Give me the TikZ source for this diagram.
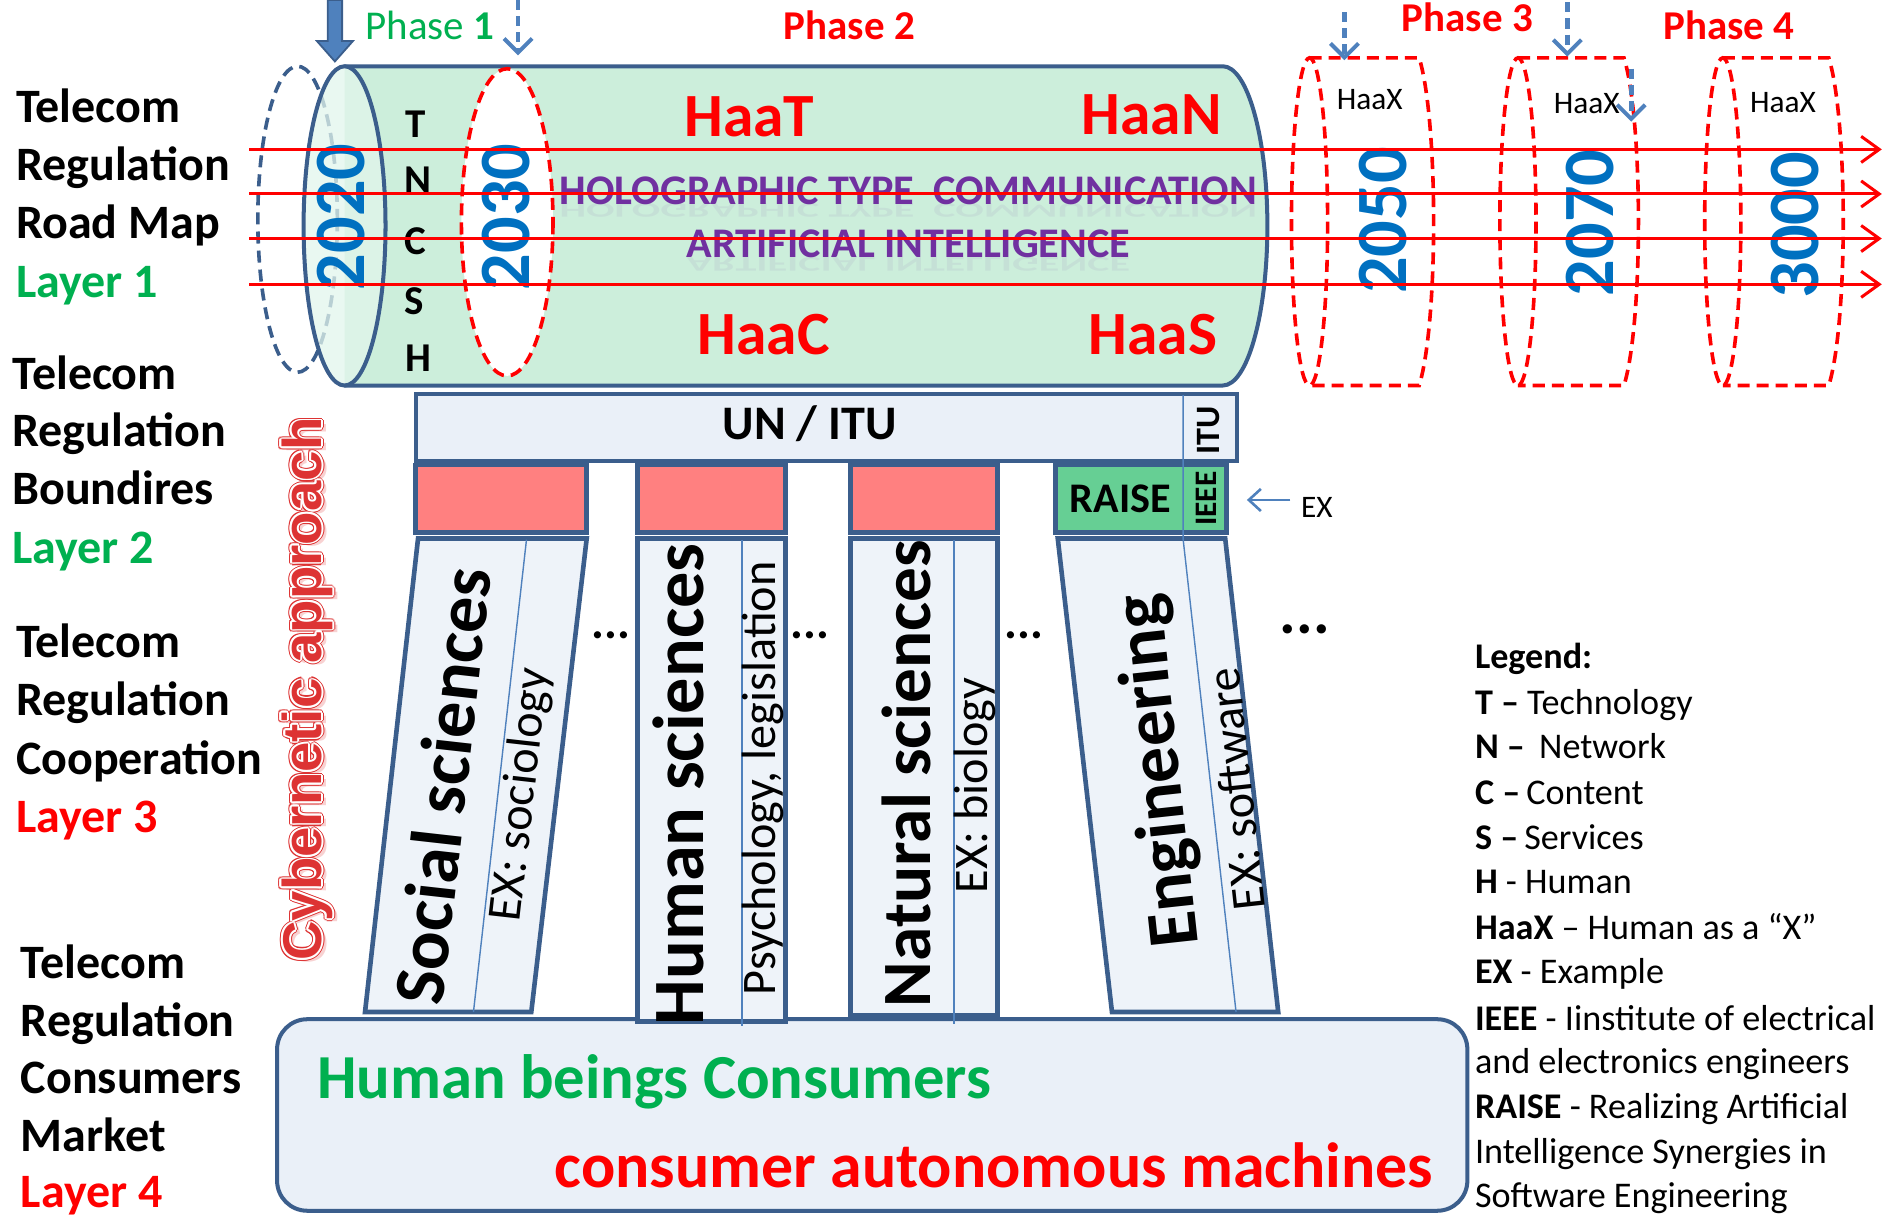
\documentclass[tikz,border=0pt]{standalone}
\usepackage{fontspec}
\setmainfont{Carlito}
\newfontfamily\lblfont{Liberation Sans}
\usetikzlibrary{arrows.meta,calc}

\definecolor{frame}{HTML}{3B5E8C}
\definecolor{steel}{HTML}{4F81BD}
\definecolor{mint}{HTML}{CCEEDB}
\definecolor{mintlight}{HTML}{E2F5EC}
\definecolor{paleblue}{HTML}{EAF0F8}
\definecolor{colfill}{HTML}{EEF3F9}
\definecolor{salmon}{HTML}{FF8080}
\definecolor{raisegreen}{HTML}{66CF94}
\definecolor{yearblue}{HTML}{0070C0}
\definecolor{okgreen}{HTML}{00B050}
\definecolor{purp}{HTML}{7030A0}
\definecolor{cyber}{HTML}{DD3333}

\newcommand\fsize[1]{\fontsize{#1pt}{#1pt}\selectfont}

\tikzset{
  framed/.style={draw=frame, line width=2pt},
  reddash/.style={draw=red, line width=1.8pt, dash pattern=on 6pt off 3.5pt},
  bluearrow/.style={draw=steel, line width=2.3pt, dash pattern=on 5pt off 3pt,
    -{Straight Barb[length=7pt,width=14pt,line width=2pt]}},
  timeline/.style={draw=red, line width=1.5pt,
    -{Straight Barb[length=9pt,width=13pt,line width=1.5pt]}},
  rowlbl/.style={anchor=base west, inner sep=0pt, font=\bfseries\fsize{23.9}},
  year/.style={text=yearblue, font=\bfseries\fsize{36}, rotate=90, inner sep=0pt},
  haa/.style={text=red, font=\bfseries\fsize{30.6}, inner sep=0pt},
  layerletter/.style={font=\bfseries\fsize{20.4}, inner sep=0pt},
  holo/.style={text=purp, font=\bfseries\fsize{21}, inner sep=0pt},
  haax/.style={font=\fsize{15.6}, inner sep=0pt},
  phase/.style={anchor=base, text=red, font=\bfseries\fsize{20.4}, inner sep=0pt},
  colbox/.style={framed, fill=colfill, line width=2.3pt},
  capbox/.style={framed, fill=salmon, line width=2.3pt},
  thinline/.style={draw=steel, line width=0.7pt},
  coltitle/.style={font=\bfseries\fsize{36}, inner sep=0pt},
  colsub/.style={font=\fsize{24}, inner sep=0pt},
  dots/.style={font=\bfseries\fsize{24}, inner sep=0pt},
  legendline/.style={anchor=base west, inner sep=0pt, font=\fsize{18}},
  cyb/.style={rotate=90, font=\lblfont\bfseries\fsize{27.2}, inner sep=0pt},
}

\begin{document}
\begin{tikzpicture}[x=0.6pt,y=-0.6pt]
\useasboundingbox (0,0) rectangle (1568,1008);

% ---------- row labels on the left ----------
\node[rowlbl] (r1a) at (13,102) {Telecom};
\node[rowlbl] (r1b) at (13,150) {Regulation};
\node[rowlbl] (r1c) at (13,198) {Road Map};
\node[rowlbl, text=okgreen] (r1d) at (13,247) {Layer 1};

\node[rowlbl] (r2a) at (10,323) {Telecom};
\node[rowlbl] (r2b) at (10,371) {Regulation};
\node[rowlbl] (r2c) at (10,419) {Boundires};
\node[rowlbl, text=okgreen] (r2d) at (10,468) {Layer 2};

\node[rowlbl] (r3a) at (13,546) {Telecom};
\node[rowlbl] (r3b) at (13,594) {Regulation};
\node[rowlbl] (r3c) at (13,643) {Cooperation};
\node[rowlbl, text=red] (r3d) at (13,691) {Layer 3};

\node[rowlbl] (r4a) at (17,812) {Telecom};
\node[rowlbl] (r4b) at (17,860) {Regulation};
\node[rowlbl] (r4c) at (17,908) {Consumers};
\node[rowlbl] (r4d) at (17,956) {Market};
\node[rowlbl, text=red] (r4e) at (17,1002) {Layer 4};

% ---------- the roadmap cylinder ----------
\path[fill=mint, framed] (286,55) -- (1015,55)
  arc[start angle=-90, end angle=90, x radius=37, y radius=132.5] -- (286,320);
\draw[draw=frame, line width=1.8pt, dash pattern=on 6pt off 3.5pt]
  (247,182) ellipse [x radius=33, y radius=127];
\fill[mintlight, fill opacity=0.75] (286,187.5) ellipse [x radius=34, y radius=132.5];
\draw[framed] (286,187.5) ellipse [x radius=34, y radius=132.5];
\draw[reddash, fill=white] (421,184.5) ellipse [x radius=38, y radius=127.5];

% ---------- future phases ----------
\foreach \L/\R [count=\i] in {1072/1190, 1245/1360, 1415/1530}{
  \draw[reddash] (\L+15,184) ellipse [x radius=15, y radius=136];
  \draw[reddash] (\L+15,48) -- (\R-12,48)
    .. controls (\R+4,100) and (\R+4,268) .. (\R-12,320) -- (\L+15,320);
}
\node[haax] (hx1) at (1137,83) {HaaX};
\node[haax] (hx2) at (1317,86) {HaaX};
\node[haax] (hx3) at (1480,85) {HaaX};

% ---------- texts inside the cylinder ----------
\node[layerletter] (lt) at (345,103) {T};
\node[layerletter] (ln) at (347,150) {N};
\node[layerletter] (lc) at (345,200) {C};
\node[layerletter] (ls) at (344,250) {S};
\node[layerletter] (lh) at (347,297) {H};

\node[year] (y2020) at (283,180) {2020};
\node[year] (y2030) at (420,180) {2030};
\node[year] (y2050) at (1148,183) {2050};
\node[year] (y2070) at (1320,185) {2070};
\node[year] (y3000) at (1490,187) {3000};

\node[haa] (haat) at (622,97) {HaaT};
\node[haa] (haan) at (956,95) {HaaN};
\node[haa] (haac) at (634,278) {HaaC};
\node[haa] (haas) at (957,278) {HaaS};

\node[holo, opacity=0.07, yscale=-0.5] (holoR) at (754,175) {HOLOGRAPHIC TYPE\hspace{0.45em}COMMUNICATION};
\node[holo, opacity=0.07, yscale=-0.5] (artR) at (754,219) {ARTIFICIAL INTELLIGENCE};
\node[holo] (holo) at (754,158) {HOLOGRAPHIC TYPE\hspace{0.45em}COMMUNICATION};
\node[holo] (art) at (754,202) {ARTIFICIAL INTELLIGENCE};

% ---------- time lines ----------
\foreach \y [count=\i] in {124,161,198,236}{
  \coordinate (ts\i) at (207,\y);
  \coordinate (te\i) at (1562,\y);
  \draw[timeline] (ts\i) -- (te\i);
}

% ---------- phase markers ----------
\draw[fill=steel, draw=frame, line width=0.9pt]
  (272,0) -- (284,0) -- (284,34) -- (293,34) -- (278,51) -- (263,34) -- (272,34) -- cycle;
\node[anchor=base west, text=okgreen, font=\fsize{20.4}, inner sep=0pt] (ph1) at (303,33) {Phase \textbf{1}};
\node[phase] (ph2) at (705,33) {Phase 2};
\node[phase] (ph3) at (1218,26) {Phase 3};
\node[phase] (ph4) at (1435,33) {Phase 4};

\coordinate (m1s) at (430,0);    \coordinate (m1e) at (430,46);
\coordinate (m2s) at (1116,10);  \coordinate (m2e) at (1116,50);
\coordinate (m3s) at (1301,2);   \coordinate (m3e) at (1301,47);
\coordinate (m4s) at (1354,57);  \coordinate (m4e) at (1354,101);
\draw[bluearrow] (m1s) -- (m1e);
\draw[bluearrow] (m2s) -- (m2e);
\draw[bluearrow] (m3s) -- (m3e);
\draw[bluearrow] (m4s) -- (m4e);

% ---------- consumers market ----------
\draw[framed, fill=paleblue, rounded corners=15pt] (230,846) rectangle (1218,1005);
\node[anchor=base west, text=okgreen, font=\bfseries\fsize{31.2}, inner sep=0pt] (human) at (263,912) {Human beings Consumers};
\node[anchor=base east, text=red, font=\bfseries\fsize{31.8}, inner sep=0pt] (machines) at (1190,986) {consumer autonomous machines};

% ---------- boundaries ----------
\draw[framed, fill=paleblue] (345,327) rectangle (1027,383);
\node[font=\bfseries\fsize{24}, inner sep=0pt] (unitu) at (672,352) {UN / ITU};

\draw[capbox] (345,386) rectangle (487,442);
\draw[capbox] (529,386) rectangle (652,442);
\draw[capbox] (706,386) rectangle (828,442);
\draw[capbox, fill=raisegreen] (876,386) rectangle (1018,442);
\node[font=\bfseries\fsize{21}, inner sep=0pt] (raise) at (930,414) {RAISE};

% ---------- cooperation pillars ----------
\draw[colbox] (347,447) -- (487,447) -- (441,840) -- (303,840) -- cycle;
\draw[colbox] (529,447) rectangle (652,848);
\draw[colbox] (706,447) rectangle (828,843);
\draw[colbox] (878,447) -- (1017,447) -- (1061,840) -- (923,840) -- cycle;

\draw[thinline] (437,448) -- (393,840);
\draw[thinline] (616,448) -- (616,852);
\draw[thinline] (792,448) -- (792,850);
\draw[thinline] (982,328) -- (982,447) -- (1026,840);

\node[font=\bfseries\fsize{17}, rotate=90, inner sep=0pt] (itu) at (1003,357) {ITU};
\node[font=\bfseries\fsize{15.6}, rotate=90, inner sep=0pt] (ieee) at (1001,414) {IEEE};

\node[coltitle, rotate=83.6] (soc) at (367,652) {Social sciences};
\node[colsub, rotate=83.6] (socx) at (433,660) {EX: sociology};
\node[coltitle, rotate=90] (hum) at (563,651) {Human sciences};
\node[colsub, rotate=90] (humx) at (633,646) {Psychology, legislation};
\node[coltitle, rotate=90, font=\bfseries\fsize{34.5}] (nat) at (752,642) {Natural sciences};
\node[colsub, rotate=90] (natx) at (809,652) {EX: biology};
\node[coltitle, rotate=96.2] (eng) at (963,640) {Engineering};
\node[colsub, rotate=96.2] (engx) at (1026,655) {EX: software};

\node[dots] (d1) at (507,527) {...};
\node[dots] (d2) at (672,527) {...};
\node[dots] (d3) at (850,527) {...};
\node[dots, font=\bfseries\fsize{31}] (d4) at (1083,522) {...};

\coordinate (exs) at (1071,415);
\coordinate (exe) at (1035,415);
\draw[draw=steel, line width=1.3pt, -{Straight Barb[length=6pt,width=11pt,line width=1.3pt]}] (exs) -- (exe);
\node[font=\fsize{15.6}, inner sep=0pt] (exlbl) at (1093,421) {EX};

% ---------- cybernetic approach: double outlined lettering ----------
\coordinate (cybc) at (255,572);
\node[cyb, text=cyber!22] (cybshadow) at ($(cybc)+(4,3)$) {Cybernetic approach};
\foreach \a in {0,30,...,330}{
  \node[cyb, text=cyber] at ($(cybc)+(\a:2.4)$) {Cybernetic approach};
}
\foreach \a in {0,30,...,330}{
  \node[cyb, text=white] at ($(cybc)+(\a:1.4)$) {Cybernetic approach};
}
\node[cyb, text=cyber] (cyb) at (cybc) {Cybernetic approach};

% ---------- legend ----------
\node[legendline] (lg0) at (1224,555) {\textbf{Legend:}};
\node[legendline] (lg1) at (1224,593) {\textbf{T –} Technology};
\node[legendline] (lg2) at (1224,630) {\textbf{N –} \,Network};
\node[legendline] (lg3) at (1224,668) {\textbf{C –}\,Content};
\node[legendline] (lg4) at (1224,705) {\textbf{S –}\,Services};
\node[legendline] (lg5) at (1224,742) {\textbf{H} - Human};
\node[legendline] (lg6) at (1224,780) {\textbf{HaaX} – Human as a “X”};
\node[legendline] (lg7) at (1224,816) {\textbf{EX} - Example};
\node[legendline] (lg8) at (1224,855) {\textbf{IEEE} - Iinstitute of electrical};
\node[legendline] (lg9) at (1224,891) {and electronics engineers};
\node[legendline] (lg10) at (1224,928) {\textbf{RAISE} - Realizing Artificial};
\node[legendline] (lg11) at (1224,966) {Intelligence Synergies in};
\node[legendline] (lg12) at (1224,1002) {Software Engineering};

\end{tikzpicture}
\end{document}
